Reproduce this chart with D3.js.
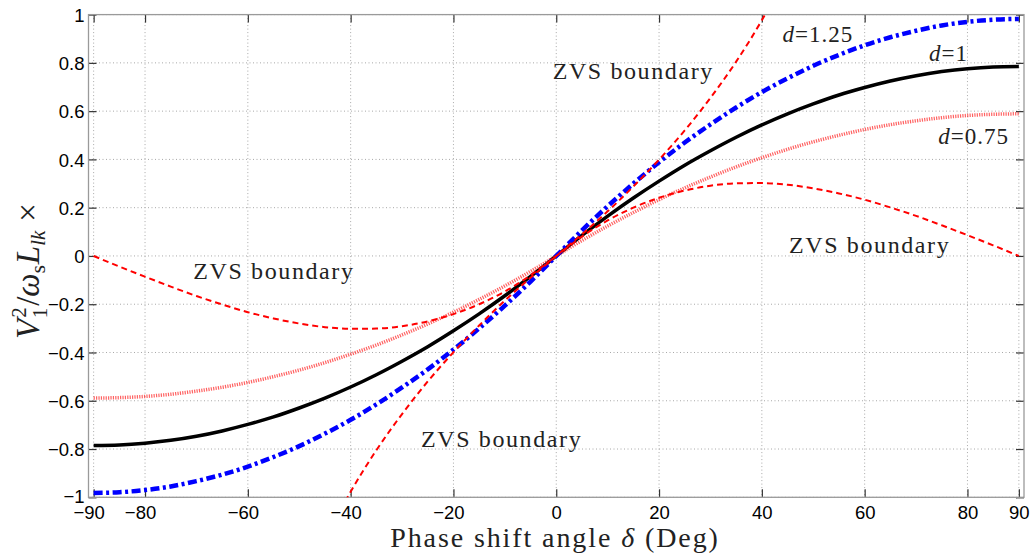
<!DOCTYPE html>
<html>
<head>
<meta charset="utf-8">
<script src="https://cdn.jsdelivr.net/npm/d3@7"></script>
<style>
  html, body { margin: 0; padding: 0; background: #fff; }
  svg { display: block; }
</style>
</head>
<body>
<svg id="chart" width="1034" height="553"></svg>
<script>
// ---------------- data ----------------
const deltaDeg = [-90,-85,-80,-75,-70,-65,-60,-55,-50,-45,-40,-35,-30,-25,-20,-15,-10,-5,0,
                  5,10,15,20,25,30,35,40,45,50,55,60,65,70,75,80,85,90];

const powerD1 = [-0.785,-0.783,-0.776,-0.764,-0.747,-0.725,-0.698,-0.667,-0.630,-0.589,-0.543,-0.492,-0.436,-0.376,-0.310,-0.240,-0.165,-0.085,0,
                 0.085,0.165,0.240,0.310,0.376,0.436,0.492,0.543,0.589,0.630,0.667,0.698,0.725,0.747,0.764,0.776,0.783,0.785];

const powerD125 = [-0.982,-0.979,-0.970,-0.955,-0.933,-0.906,-0.873,-0.833,-0.788,-0.736,-0.679,-0.615,-0.545,-0.470,-0.388,-0.300,-0.206,-0.106,0,
                   0.106,0.206,0.300,0.388,0.470,0.545,0.615,0.679,0.736,0.788,0.833,0.873,0.906,0.933,0.955,0.970,0.979,0.982];

const powerD075 = [-0.589,-0.587,-0.582,-0.573,-0.560,-0.544,-0.524,-0.500,-0.473,-0.442,-0.407,-0.369,-0.327,-0.282,-0.233,-0.180,-0.124,-0.064,0,
                   0.064,0.124,0.180,0.233,0.282,0.327,0.369,0.407,0.442,0.473,0.500,0.524,0.544,0.560,0.573,0.582,0.587,0.589];

const zvsHump = [0,-0.044,-0.086,-0.127,-0.166,-0.201,-0.233,-0.259,-0.280,-0.295,-0.302,-0.301,-0.291,-0.271,-0.241,-0.200,-0.147,-0.080,0,
                 0.080,0.147,0.200,0.241,0.271,0.291,0.301,0.302,0.295,0.280,0.259,0.233,0.201,0.166,0.127,0.086,0.044,0];

const zvsSteepDeg = [-42,-40,-35,-30,-25,-20,-15,-10,-5,0,5,10,15,20,25,30,35,40,42];
const zvsSteep = [-1.054,-0.977,-0.805,-0.655,-0.520,-0.399,-0.288,-0.185,-0.090,0,
                  0.090,0.185,0.288,0.399,0.520,0.655,0.805,0.977,1.054];

const xTicks = [-90,-80,-60,-40,-20,0,20,40,60,80,90];
const xTickLabels = ["−90","−80","−60","−40","−20","0","20","40","60","80","90"];
const yTicks = [-1,-0.8,-0.6,-0.4,-0.2,0,0.2,0.4,0.6,0.8,1];
const yTickLabels = ["−1","−0.8","−0.6","−0.4","−0.2","0","0.2","0.4","0.6","0.8","1"];

const annotations = [
  {text: "ZVS boundary", x: -0.7, y: 0.732},
  {text: "ZVS boundary", x: -70.6, y: -0.097},
  {text: "ZVS boundary", x: -26.3, y: -0.792},
  {text: "ZVS boundary", x: 45.3, y: 0.014}
];
const dLabels = [
  {d: "1.25", x: 44.0, y: 0.885},
  {d: "1", x: 72.5, y: 0.808},
  {d: "0.75", x: 74.3, y: 0.464}
];

// ---------------- layout ----------------
const svg = d3.select("#chart");
const pLeft = 88.5, pRight = 1024, pTop = 14.6, pBottom = 497.3;
const x = d3.scaleLinear().domain([-91, 91]).range([pLeft, pRight]);
const y = d3.scaleLinear().domain([-1, 1]).range([pBottom, pTop]);

// grid
const grid = svg.append("g");
grid.selectAll("line.vx").data(xTicks).enter().append("line")
  .attr("x1", d => x(d)).attr("x2", d => x(d)).attr("y1", pTop).attr("y2", pBottom)
  .attr("stroke", "#a8a8a8").attr("stroke-width", 1).attr("stroke-dasharray", "1,2.5");
grid.selectAll("line.hy").data(yTicks).enter().append("line")
  .attr("x1", pLeft).attr("x2", pRight).attr("y1", d => y(d)).attr("y2", d => y(d))
  .attr("stroke", "#a8a8a8").attr("stroke-width", 1).attr("stroke-dasharray", "1,2.5");

// axes
function styleAxis(g) {
  g.select(".domain").remove();
  g.selectAll(".tick line").attr("stroke", "#333").attr("stroke-width", 1.2);
  g.selectAll(".tick text").attr("font-family", "Liberation Sans, Arial, sans-serif")
    .attr("font-size", 18.5).attr("fill", "#000");
}
const xAxis = svg.append("g").attr("transform", `translate(0,${pBottom})`)
  .call(d3.axisBottom(x).tickValues(xTicks).tickSize(-8).tickPadding(9)
        .tickFormat((d, i) => xTickLabels[i]));
styleAxis(xAxis);
xAxis.selectAll(".tick text").attr("dx", d => d < 0 ? -5 : 0);

const xAxisTop = svg.append("g").attr("transform", `translate(0,${pTop})`)
  .call(d3.axisTop(x).tickValues(xTicks).tickSize(-8).tickFormat(""));
styleAxis(xAxisTop);

const yAxis = svg.append("g").attr("transform", `translate(${pLeft},0)`)
  .call(d3.axisLeft(y).tickValues(yTicks).tickSize(-8).tickPadding(4)
        .tickFormat((d, i) => yTickLabels[i]));
styleAxis(yAxis);
yAxis.selectAll(".tick text").attr("dy", d => d === -1 ? "0.28em" : "0.36em");

const yAxisRight = svg.append("g").attr("transform", `translate(${pRight},0)`)
  .call(d3.axisRight(y).tickValues(yTicks).tickSize(-8).tickFormat(""));
styleAxis(yAxisRight);

// box
svg.append("rect").attr("x", pLeft).attr("y", pTop).attr("width", pRight - pLeft).attr("height", pBottom - pTop)
  .attr("fill", "none").attr("stroke", "#9a9a9a").attr("stroke-width", 1.3);

// clip
svg.append("clipPath").attr("id", "plotclip").append("rect")
  .attr("x", pLeft).attr("y", pTop).attr("width", pRight - pLeft).attr("height", pBottom - pTop);
const plot = svg.append("g").attr("clip-path", "url(#plotclip)");

function drawLine(xs, ys, opts) {
  const pts = xs.map((d, i) => [d, ys[i]]);
  const line = d3.line().x(d => x(d[0])).y(d => y(d[1])).curve(d3.curveMonotoneX);
  plot.append("path").datum(pts).attr("d", line).attr("fill", "none")
    .attr("stroke", opts.color).attr("stroke-width", opts.width)
    .attr("stroke-dasharray", opts.dash || null)
    .attr("stroke-opacity", opts.opacity || 1)
    .attr("stroke-linecap", opts.cap || "butt");
}

drawLine(deltaDeg, powerD1, {color: "#000000", width: 3.5});
drawLine(deltaDeg, powerD075, {color: "#ff2020", width: 3.5, dash: "1.2,1.2", opacity: 0.7});
drawLine(deltaDeg, powerD125, {color: "#0000ff", width: 4.5, dash: "9,3.5,3,3.5"});
drawLine(deltaDeg, zvsHump, {color: "#ff0000", width: 2, dash: "6,4"});
drawLine(zvsSteepDeg, zvsSteep, {color: "#ff0000", width: 2, dash: "6,4"});

// annotations
const serif = "Liberation Serif, Times New Roman, serif";
svg.selectAll("text.zvs").data(annotations).enter().append("text")
  .attr("x", d => x(d.x)).attr("y", d => y(d.y))
  .attr("font-family", serif).attr("font-size", 24).attr("letter-spacing", 1.6)
  .attr("fill", "#222").text(d => d.text);

const dl = svg.selectAll("text.dl").data(dLabels).enter().append("text")
  .attr("x", d => x(d.x)).attr("y", d => y(d.y))
  .attr("font-family", serif).attr("font-size", 23).attr("fill", "#222");
dl.append("tspan").attr("font-style", "italic").text("d");
dl.append("tspan").attr("dx", 1).text("=");
dl.append("tspan").attr("dx", 1).attr("letter-spacing", 1).text(d => d.d);

// x label
const xl = svg.append("text").attr("x", 555).attr("y", 546.5).attr("text-anchor", "middle")
  .attr("font-family", serif).attr("font-size", 28).attr("letter-spacing", 1.9).attr("fill", "#222");
xl.append("tspan").text("Phase shift angle ");
xl.append("tspan").attr("font-style", "italic").text("δ");
xl.append("tspan").text(" (Deg)");

// y label
const yl = svg.append("text").attr("transform", "translate(39,271) rotate(-90)")
  .attr("text-anchor", "middle").attr("font-family", serif).attr("font-size", 33).attr("fill", "#222");
yl.append("tspan").attr("font-style", "italic").text("V");
yl.append("tspan").attr("font-size", 21).attr("dy", -13).attr("dx", 1).text("2");
yl.append("tspan").attr("font-size", 21).attr("dy", 21).attr("dx", -11).text("1");
yl.append("tspan").attr("dy", -8).attr("dx", 2).text("/");
yl.append("tspan").attr("font-style", "italic").text("ω");
yl.append("tspan").attr("font-size", 21).attr("dy", 6).text("s");
yl.append("tspan").attr("font-style", "italic").attr("dy", -6).attr("dx", 1).text("L");
yl.append("tspan").attr("font-style", "italic").attr("font-size", 21).attr("dy", 6).text("lk");
yl.append("tspan").attr("dy", -6).attr("dx", 9).text("×");
</script>
</body>
</html>
